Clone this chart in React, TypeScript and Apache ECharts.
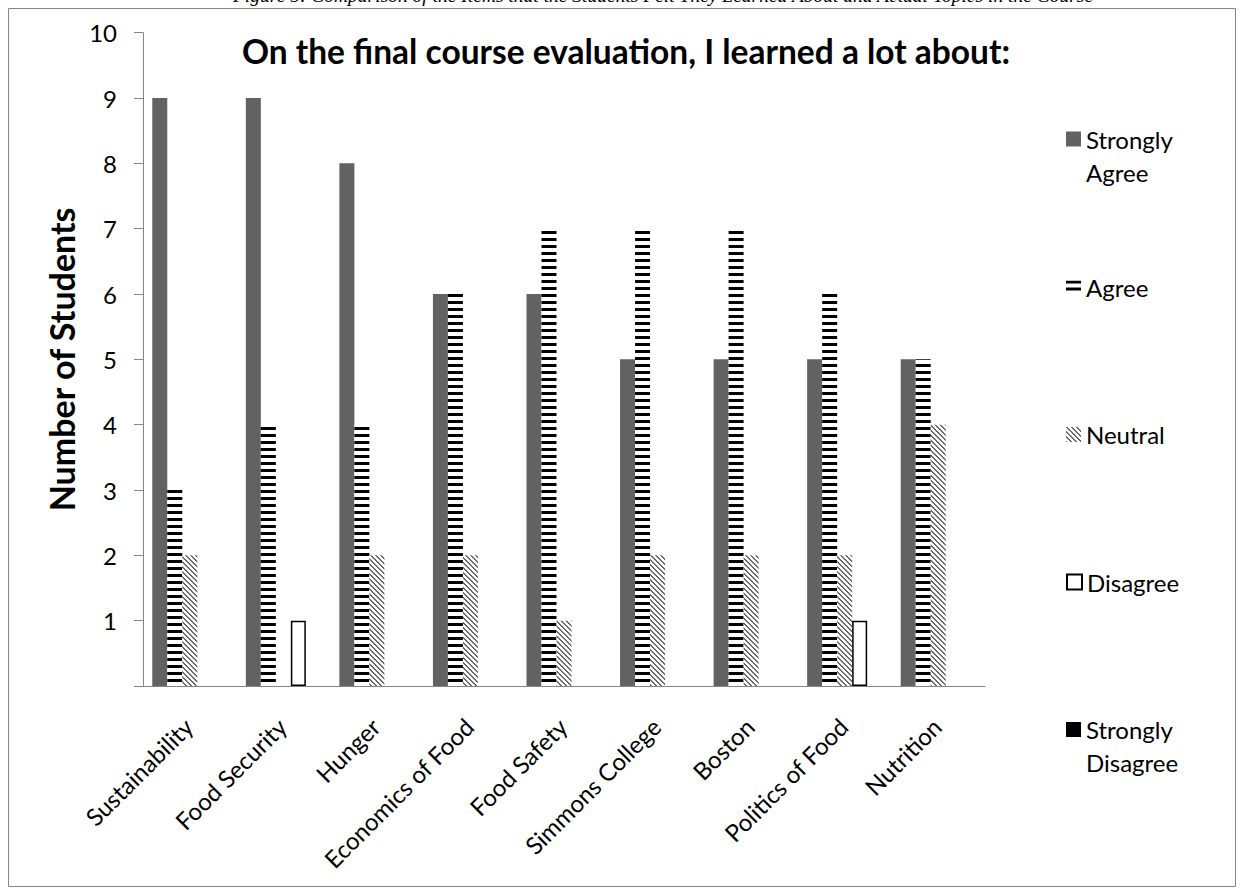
import React, { useEffect, useRef } from "react";
import * as echarts from "echarts";

const categories = [
  "Sustainability",
  "Food Security",
  "Hunger",
  "Economics of Food",
  "Food Safety",
  "Simmons College",
  "Boston",
  "Politics of Food",
  "Nutrition",
];
const seriesNames = ["Strongly Agree", "Agree", "Neutral", "Disagree", "Strongly Disagree"];
const stronglyAgree = [9, 9, 8, 6, 6, 5, 5, 5, 5];
const agree = [3, 4, 4, 6, 7, 7, 7, 6, 5];
const neutral = [2, 0, 2, 2, 1, 2, 2, 2, 4];
const disagree = [0, 1, 0, 0, 0, 0, 0, 1, 0];
const stronglyDisagree = [0, 0, 0, 0, 0, 0, 0, 0, 0];
const yMin = 0;
const yMax = 10;
const yStep = 1;

const titleText = "On the final course evaluation, I learned a lot about:";
const yAxisTitle = "Number of Students";
const captionText =
  "Figure 5: Comparison of the Items that the Students Felt They Learned About and Actual Topics in the Course";

const FONT = "Lato, 'Noto Sans', sans-serif";

function makeCanvas(w: number, h: number, draw: (ctx: CanvasRenderingContext2D) => void) {
  const c = document.createElement("canvas");
  c.width = w;
  c.height = h;
  const ctx = c.getContext("2d") as CanvasRenderingContext2D;
  draw(ctx);
  return c;
}

export default function App() {
  const ref = useRef<HTMLDivElement>(null);
  useEffect(() => {
    if (!ref.current) return;
    const chart = echarts.init(ref.current, undefined, { renderer: "svg" });

    const hStripe = makeCanvas(8, 7, (ctx) => {
      ctx.fillStyle = "#ffffff";
      ctx.fillRect(0, 0, 8, 7);
      ctx.fillStyle = "#000000";
      ctx.fillRect(0, 0, 8, 3);
    });
    const diag = makeCanvas(5, 5, (ctx) => {
      ctx.fillStyle = "#ffffff";
      ctx.fillRect(0, 0, 5, 5);
      ctx.fillStyle = "#6a6a6a";
      for (let y = 0; y < 5; y++) {
        for (let x = 0; x < 5; x++) {
          if ((x - y + 10) % 5 < 2) ctx.fillRect(x, y, 1, 1);
        }
      }
    });

    const fills: any[] = [
      "#626262",
      { image: hStripe, repeat: "repeat", imageWidth: 8, imageHeight: 7 },
      { image: diag, repeat: "repeat", imageWidth: 5, imageHeight: 5 },
      "#ffffff",
      "#000000",
    ];
    const dataSets = [stronglyAgree, agree, neutral, disagree, stronglyDisagree];
    const legendTops = [89.5, 270.5, 418, 565.5, 680];

    const series = seriesNames.map((name, i) => ({
      name,
      type: "bar",
      data: dataSets[i].map((v) => (v === 0 ? null : v)),
      barWidth: 15,
      barGap: "0%",
      itemStyle:
        i === 3
          ? { color: fills[i], borderColor: "#000000", borderWidth: 1.5 }
          : { color: fills[i] },
    }));

    const legends = seriesNames.map((name, i) => ({
      data: [name],
      orient: "vertical",
      left: 1066,
      top: legendTops[i],
      padding: 0,
      itemWidth: 15,
      itemHeight: i === 1 ? 13 : 15,
      icon: "rect",
      selectedMode: false,
      formatter: (n: string) => (n.startsWith("Strongly ") ? "\n" + n.replace(" ", "\n") : n),
      textStyle: { fontFamily: FONT, fontSize: 24, color: "#000000", lineHeight: 33 },
    }));

    chart.setOption({
      animation: false,
      backgroundColor: "#ffffff",
      title: {
        text: titleText,
        left: 621,
        top: 29,
        textAlign: "center",
        textStyle: { fontFamily: FONT, fontSize: 33.5, fontWeight: "bold", color: "#000000" },
      },
      legend: legends,
      grid: { left: 143, right: 259, top: 32.7, bottom: 210, containLabel: false },
      xAxis: {
        type: "category",
        data: categories,
        axisLine: { lineStyle: { color: "#868686", width: 1 } },
        axisTick: { length: 8, lineStyle: { color: "#868686" } },
        axisLabel: {
          rotate: 45,
          align: "right",
          verticalAlign: "top",
          margin: 18,
          padding: [0, 14, 0, 0],
          interval: 0,
          fontFamily: FONT,
          fontSize: 24,
          color: "#000000",
        },
      },
      yAxis: {
        type: "value",
        min: yMin,
        max: yMax,
        interval: yStep,
        name: yAxisTitle,
        nameLocation: "middle",
        nameGap: 63,
        nameTextStyle: { fontFamily: FONT, fontSize: 34, fontWeight: "bold", color: "#000000" },
        axisLine: { show: true, lineStyle: { color: "#868686", width: 1 } },
        axisTick: { show: true, length: 9, lineStyle: { color: "#868686" } },
        splitLine: { show: false },
        axisLabel: {
          margin: 26,
          fontFamily: FONT,
          fontSize: 24,
          color: "#000000",
          formatter: (v: number) => (v === 0 ? "" : String(v)),
        },
      },
      graphic: [
        {
          type: "rect",
          shape: { x: 8.5, y: 8.5, width: 1227, height: 878 },
          style: { fill: "none", stroke: "#868686", lineWidth: 1 },
          silent: true,
        },
        {
          type: "text",
          x: 663,
          y: -5,
          style: {
            text: captionText,
            fill: "#000000",
            font: "italic 19.5px 'Liberation Serif', serif",
            align: "center",
            verticalAlign: "middle",
          },
          silent: true,
        },
      ],
      series,
    });
    return () => chart.dispose();
  }, []);
  return (
    <div
      ref={ref}
      style={{ position: "absolute", left: 0, top: 0, width: 1244, height: 896, background: "#fff" }}
    />
  );
}
